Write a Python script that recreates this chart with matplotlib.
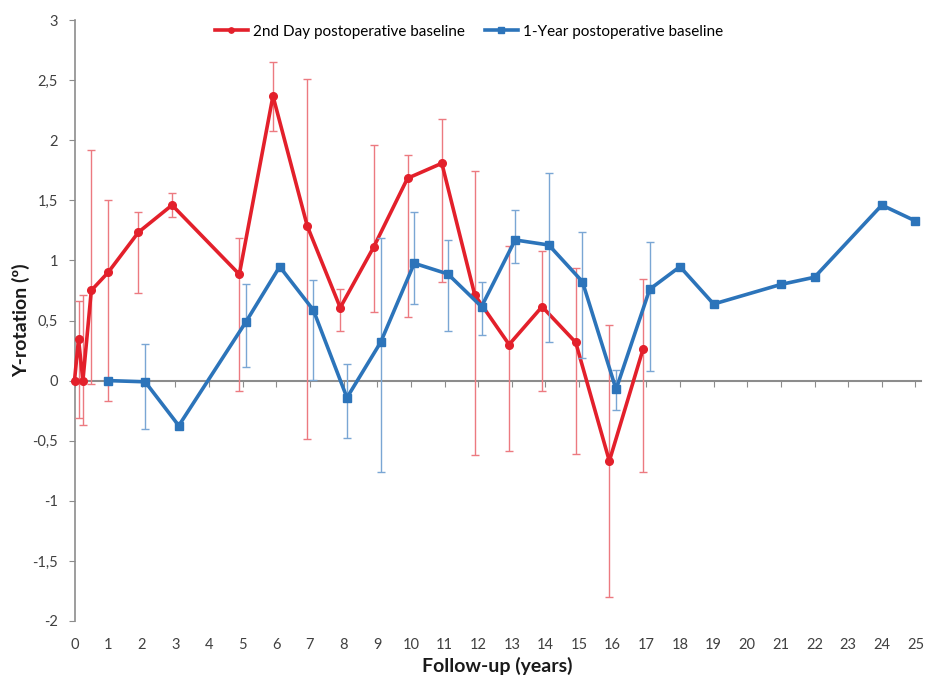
import numpy as np
import matplotlib
matplotlib.use("Agg")
import matplotlib.pyplot as plt
from matplotlib.ticker import FuncFormatter

# ---- data ----
red_x = [0, 0.12, 0.25, 0.5, 1, 1.9, 2.9, 4.9, 5.9, 6.92, 7.9, 8.9, 9.9, 10.92, 11.9, 12.92, 13.9, 14.9, 15.9, 16.9]
red_y = [0, 0.345, 0, 0.75, 0.90, 1.234, 1.46, 0.884, 2.368, 1.286, 0.607, 1.114, 1.683, 1.808, 0.712, 0.30, 0.615, 0.318, -0.669, 0.26]
red_hi = [np.nan, 0.66, 0.71, 1.92, 1.50, 1.40, 1.56, 1.19, 2.65, 2.51, 0.76, 1.96, 1.877, 2.18, 1.74, 1.12, 1.078, 0.934, 0.46, 0.845]
red_lo = [np.nan, -0.31, -0.37, -0.03, -0.17, 0.73, 1.36, -0.09, 2.08, -0.49, 0.41, 0.57, 0.53, 0.82, -0.62, -0.586, -0.084, -0.61, -1.80, -0.763]

blue_x = [1, 2.1, 3.1, 5.1, 6.1, 7.1, 8.1, 9.1, 10.1, 11.1, 12.1, 13.1, 14.1, 15.1, 16.1, 17.1, 18, 19, 21, 22, 24, 25]
blue_y = [0, -0.01, -0.375, 0.49, 0.948, 0.587, -0.142, 0.318, 0.976, 0.887, 0.615, 1.17, 1.128, 0.823, -0.073, 0.76, 0.948, 0.637, 0.80, 0.86, 1.46, 1.328]
blue_hi = [np.nan, 0.305, np.nan, 0.80, np.nan, 0.84, 0.136, 1.19, 1.40, 1.17, 0.82, 1.42, 1.725, 1.24, 0.088, 1.15, np.nan, np.nan, np.nan, np.nan, np.nan, np.nan]
blue_lo = [np.nan, -0.405, np.nan, 0.116, np.nan, 0.005, -0.48, -0.76, 0.64, 0.41, 0.38, 0.98, 0.32, 0.185, -0.245, 0.08, np.nan, np.nan, np.nan, np.nan, np.nan, np.nan]

x_ticks = list(range(0, 26))
y_ticks = [-2, -1.5, -1, -0.5, 0, 0.5, 1, 1.5, 2, 2.5, 3]

red_label = "2nd Day postoperative baseline"
blue_label = "1-Year postoperative baseline"

plt.rcParams['font.family'] = ['Lato', 'DejaVu Sans']

RED = "#E3202B"
BLUE = "#2C74BA"
RED_ERR = "#EC7A80"
BLUE_ERR = "#7AA6D4"
GRAY = "#8C8C8C"
TXT = "#404040"

fig = plt.figure(figsize=(9.25, 6.8), dpi=100)
ax = fig.add_axes([74.5 / 925, 59 / 680, 846 / 925, 601 / 680])

def draw(x, y, hi, lo, color, ecolor, marker, ms, label, z):
    x = np.array(x, float); y = np.array(y, float)
    hi = np.array(hi, float); lo = np.array(lo, float)
    m = ~np.isnan(hi)
    yerr = np.vstack([y[m] - lo[m], hi[m] - y[m]])
    ax.errorbar(x[m], y[m], yerr=yerr, fmt='none', ecolor=ecolor, elinewidth=1.0,
                capsize=3, capthick=1.0, zorder=z)
    ax.plot(x, y, color=color, lw=2.6, marker=marker, ms=ms, mfc=color, mec=color,
            label=label, zorder=z + 1, clip_on=False)

draw(red_x, red_y, red_hi, red_lo, RED, RED_ERR, 'o', 5.5, red_label, 3)
draw(blue_x, blue_y, blue_hi, blue_lo, BLUE, BLUE_ERR, 's', 5.5, blue_label, 5)

ax.set_xlim(0, 25.15)
ax.set_ylim(-2, 3)

for s in ['top', 'right']:
    ax.spines[s].set_visible(False)
ax.spines['left'].set_color(GRAY)
ax.spines['left'].set_linewidth(1.2)
ax.spines['bottom'].set_position(('data', 0))
ax.spines['bottom'].set_color(GRAY)
ax.spines['bottom'].set_linewidth(1.5)
ax.spines['bottom'].set_zorder(2)

ax.set_yticks(y_ticks)
ax.yaxis.set_major_formatter(FuncFormatter(lambda v, p: ('%g' % v).replace('.', ',')))
ax.tick_params(axis='y', direction='out', length=4, color=GRAY, labelsize=10.5,
               labelcolor=TXT, pad=8)

ax.set_xticks(x_ticks)
ax.tick_params(axis='x', direction='out', length=4, color=GRAY, labelbottom=False)

sec = ax.secondary_xaxis(0)
sec.set_xticks(x_ticks)
sec.spines['bottom'].set_visible(False)
sec.tick_params(axis='x', length=0, labelsize=10.5, labelcolor=TXT, pad=12)
sec.set_xlabel("Follow-up (years)", fontsize=14, fontweight='bold', color='#1a1a1a', labelpad=4)

ax.set_ylabel("Y-rotation (º)", fontsize=14, fontweight='bold', color='#1a1a1a')
ax.yaxis.set_label_coords(-0.052, 0.5)

leg = ax.legend(loc='upper center', bbox_to_anchor=(0.466, 1.015), ncol=2, frameon=False,
                fontsize=11, handlelength=2.2, columnspacing=1.3, handletextpad=0.3,
                markerscale=0.7)

fig.savefig("out.png", dpi=100, facecolor='white')
